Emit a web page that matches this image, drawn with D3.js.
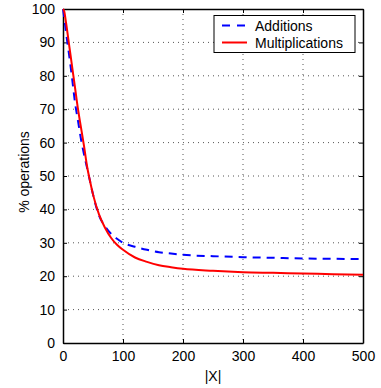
<!DOCTYPE html>
<html>
<head>
<meta charset="utf-8">
<script src="https://cdn.jsdelivr.net/npm/d3@7"></script>
<style>
  body { margin: 0; background: #fff; }
  text { font-family: "Liberation Sans", Arial, sans-serif; }
</style>
</head>
<body>
<div id="chart"></div>
<script>
// Data
var sizes = [0, 2, 5, 10, 15, 20, 25, 30, 35, 40, 45, 50, 60, 70, 80, 90, 100, 120, 140, 160, 180, 200, 250, 300, 350, 400, 450, 500];
var additions = [100, 97.5, 93, 86.5, 79.5, 72, 66.5, 61, 56.5, 52.5, 48.5, 44.5, 38.2, 35, 32.7, 31.2, 30, 28.8, 27.9, 27.2, 26.8, 26.4, 26.0, 25.7, 25.5, 25.3, 25.2, 25.1];
var multiplications = [100, 99.3, 96, 89.5, 83, 76.5, 70, 64.5, 59, 53, 48.5, 44.5, 38.5, 34.5, 31.5, 29.4, 27.9, 25.6, 24.3, 23.3, 22.7, 22.2, 21.6, 21.2, 21.0, 20.8, 20.6, 20.4];
var xTicks = [0, 100, 200, 300, 400, 500];
var yTicks = [0, 10, 20, 30, 40, 50, 60, 70, 80, 90, 100];
var seriesNames = ["Additions", "Multiplications"];

var svgWidth = 381;
var svgHeight = 388;
var margin = { top: 9, right: 18, bottom: 45, left: 63 };
var width = svgWidth - margin.left - margin.right;
var height = svgHeight - margin.top - margin.bottom;

var svg = d3.select("#chart")
  .append("svg")
  .attr("width", svgWidth)
  .attr("height", svgHeight);

var chartGroup = svg.append("g")
  .attr("transform", `translate(${margin.left}, ${margin.top})`);

var xScale = d3.scaleLinear().domain([0, 500]).range([0, width]);
var yScale = d3.scaleLinear().domain([0, 100]).range([height, 0]);

// dotted grid
chartGroup.append("g")
  .selectAll("line")
  .data(xTicks.slice(1, -1))
  .enter().append("line")
  .attr("x1", d => xScale(d)).attr("x2", d => xScale(d))
  .attr("y1", 0).attr("y2", height)
  .attr("stroke", "#555").attr("stroke-width", 1)
  .attr("stroke-dasharray", "1,4");

chartGroup.append("g")
  .selectAll("line")
  .data(yTicks.slice(1, -1))
  .enter().append("line")
  .attr("x1", 0).attr("x2", width)
  .attr("y1", d => yScale(d)).attr("y2", d => yScale(d))
  .attr("stroke", "#555").attr("stroke-width", 1)
  .attr("stroke-dasharray", "1,4");

// axes with inward ticks, plus mirrored ticks on top/right
var bottomAxis = d3.axisBottom(xScale).tickValues(xTicks).tickSizeInner(-4).tickSizeOuter(0).tickPadding(8);
var leftAxis = d3.axisLeft(yScale).tickValues(yTicks).tickSizeInner(-4).tickSizeOuter(0).tickPadding(8);
var topAxis = d3.axisTop(xScale).tickValues(xTicks).tickSizeInner(-4).tickSizeOuter(0).tickFormat("");
var rightAxis = d3.axisRight(yScale).tickValues(yTicks).tickSizeInner(-4).tickSizeOuter(0).tickFormat("");

chartGroup.append("g").attr("transform", `translate(0, ${height})`).call(bottomAxis);
chartGroup.append("g").call(leftAxis);
chartGroup.append("g").call(topAxis);
chartGroup.append("g").attr("transform", `translate(${width}, 0)`).call(rightAxis);

chartGroup.selectAll(".domain").attr("stroke", "#000").attr("stroke-width", 1.5);
chartGroup.selectAll(".tick line").attr("stroke", "#000");
chartGroup.selectAll(".tick text")
  .attr("font-size", 14)
  .attr("fill", "#000")
  .style("font-family", "'Liberation Sans', Arial, sans-serif");

// curves
var line = d3.line()
  .x((d, i) => xScale(sizes[i]))
  .y(d => yScale(d))
  .curve(d3.curveMonotoneX);

chartGroup.append("path")
  .datum(additions)
  .attr("fill", "none")
  .attr("stroke", "#0000ff")
  .attr("stroke-width", 2)
  .attr("stroke-dasharray", "8,6")
  .attr("d", line);

chartGroup.append("path")
  .datum(multiplications)
  .attr("fill", "none")
  .attr("stroke", "#ff0000")
  .attr("stroke-width", 2)
  .attr("d", line);

// legend
var legend = svg.append("g").attr("transform", "translate(214, 15.5)");
legend.append("rect")
  .attr("width", 141).attr("height", 37)
  .attr("fill", "#fff").attr("stroke", "#000").attr("stroke-width", 1);

var legendStyles = [
  { color: "#0000ff", dash: "8,7" },
  { color: "#ff0000", dash: null }
];
seriesNames.forEach(function(name, i) {
  var y = 10 + i * 17;
  legend.append("line")
    .attr("x1", 8).attr("x2", 33)
    .attr("y1", y).attr("y2", y)
    .attr("stroke", legendStyles[i].color)
    .attr("stroke-width", 2)
    .attr("stroke-dasharray", legendStyles[i].dash);
  legend.append("text")
    .attr("x", 41).attr("y", y + 5)
    .attr("font-size", 14)
    .text(name);
});

// axis titles
svg.append("text")
  .attr("x", margin.left + width / 2)
  .attr("y", 381)
  .attr("text-anchor", "middle")
  .attr("font-size", 14)
  .text("|X|");

svg.append("text")
  .attr("transform", "translate(29, 172) rotate(-90)")
  .attr("text-anchor", "middle")
  .attr("font-size", 14)
  .text("% operations");
</script>
</body>
</html>
